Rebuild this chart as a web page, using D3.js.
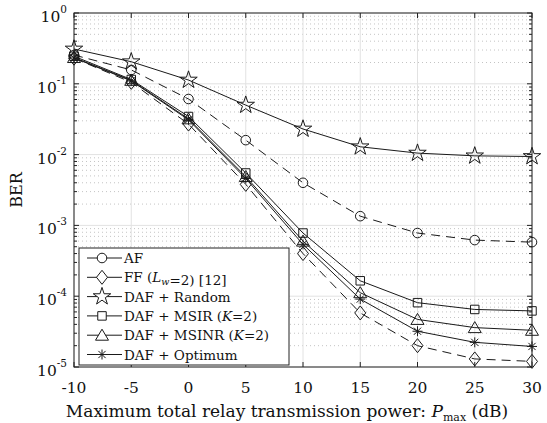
<!DOCTYPE html>
<html>
<head>
<meta charset="utf-8">
<script src="https://cdn.jsdelivr.net/npm/d3@7"></script>
<style>
  body { margin: 0; background: #fff; }
  svg { display: block; font-family: "DejaVu Serif", serif; }
</style>
</head>
<body>
<div id="chart"></div>
<script>
// power values (dB) on x axis
const pmax = [-10, -5, 0, 5, 10, 15, 20, 25, 30];

// BER curves
const berAF    = [0.255, 0.157, 0.061, 0.016, 0.0040, 0.00135, 0.00078, 0.00062, 0.00058];
const berFF    = [0.23, 0.105, 0.027, 0.0038, 0.00040, 0.000058, 0.000020, 0.000013, 0.0000120];
const berRand  = [0.31, 0.205, 0.113, 0.050, 0.023, 0.0129, 0.0105, 0.0096, 0.0094];
const berMSIR  = [0.245, 0.115, 0.0345, 0.0055, 0.00078, 0.000165, 0.000081, 0.000065, 0.000062];
const berMSINR = [0.235, 0.112, 0.032, 0.0049, 0.00060, 0.000112, 0.000047, 0.000036, 0.000033];
const berOpt   = [0.232, 0.110, 0.031, 0.0046, 0.00054, 0.000091, 0.000032, 0.0000223, 0.0000195];

const xTicks = [-10, -5, 0, 5, 10, 15, 20, 25, 30];
const yExps = [0, -1, -2, -3, -4, -5];

const series = [
  { label: "AF", vals: berAF, marker: "circle", dashed: true },
  { label: "FF", vals: berFF, marker: "diamond", dashed: true },
  { label: "DAF + Random", vals: berRand, marker: "star", dashed: false },
  { label: "DAF + MSIR", vals: berMSIR, marker: "square", dashed: false },
  { label: "DAF + MSINR", vals: berMSINR, marker: "triangle", dashed: false },
  { label: "DAF + Optimum", vals: berOpt, marker: "asterisk", dashed: false }
];

const width = 547, height = 423;
const margin = { top: 13, right: 15, bottom: 56, left: 74 };

const svg = d3.select("#chart").append("svg")
  .attr("width", width).attr("height", height);

const x = d3.scaleLinear().domain([-10, 30]).range([margin.left, width - margin.right]);
const y = d3.scaleLog().domain([1e-5, 1]).range([height - margin.bottom, margin.top]);

const x0 = x.range()[0], x1 = x.range()[1];
const y0 = y.range()[0], y1 = y.range()[1];

// minor log values
const minors = [];
for (let e = -5; e < 0; e++) for (let m = 2; m <= 9; m++) minors.push(m * Math.pow(10, e));

// grid
const grid = svg.append("g");
grid.selectAll(".minor").data(minors).join("line")
  .attr("x1", x0).attr("x2", x1)
  .attr("y1", d => y(d)).attr("y2", d => y(d))
  .attr("stroke", "#c4c4c4").attr("stroke-width", 1).attr("stroke-dasharray", "1,3");
grid.selectAll(".majy").data(yExps).join("line")
  .attr("x1", x0).attr("x2", x1)
  .attr("y1", d => y(Math.pow(10, d))).attr("y2", d => y(Math.pow(10, d)))
  .attr("stroke", "#e2e2e2").attr("stroke-width", 1);
grid.selectAll(".majx").data(xTicks).join("line")
  .attr("x1", d => x(d)).attr("x2", d => x(d))
  .attr("y1", y0).attr("y2", y1)
  .attr("stroke", "#e2e2e2").attr("stroke-width", 1);

// axes frame with inward ticks
const ax = svg.append("g").attr("stroke", "#222").attr("stroke-width", 1);
ax.append("rect").attr("x", x0).attr("y", y1).attr("width", x1 - x0).attr("height", y0 - y1)
  .attr("fill", "none");
xTicks.forEach(t => {
  ax.append("line").attr("x1", x(t)).attr("x2", x(t)).attr("y1", y0).attr("y2", y0 - 5);
  ax.append("line").attr("x1", x(t)).attr("x2", x(t)).attr("y1", y1).attr("y2", y1 + 5);
});
yExps.forEach(e => {
  const yy = y(Math.pow(10, e));
  ax.append("line").attr("x1", x0).attr("x2", x0 + 5).attr("y1", yy).attr("y2", yy);
  ax.append("line").attr("x1", x1).attr("x2", x1 - 5).attr("y1", yy).attr("y2", yy);
});
minors.forEach(v => {
  const yy = y(v);
  ax.append("line").attr("x1", x0).attr("x2", x0 + 3).attr("y1", yy).attr("y2", yy);
  ax.append("line").attr("x1", x1).attr("x2", x1 - 3).attr("y1", yy).attr("y2", yy);
});

// tick labels
svg.append("g").selectAll("text").data(xTicks).join("text")
  .attr("x", d => x(d)).attr("y", y0 + 26)
  .attr("text-anchor", "middle").attr("font-size", 15.5).attr("fill", "#111")
  .text(d => d);

const yl = svg.append("g").selectAll("text").data(yExps).join("text")
  .attr("x", x0 - 7).attr("y", d => y(Math.pow(10, d)) + 9)
  .attr("text-anchor", "end").attr("font-size", 15.5).attr("fill", "#111");
yl.append("tspan").text("10");
yl.append("tspan").attr("dy", -9).attr("font-size", 10.5).text(d => d === 0 ? "0" : "-" + (-d));

// axis titles
const xt = svg.append("text").attr("x", 287).attr("y", height - 6)
  .attr("text-anchor", "middle").attr("font-size", 17).attr("fill", "#111");
xt.append("tspan").text("Maximum total relay transmission power: ");
xt.append("tspan").attr("font-style", "italic").text("P");
xt.append("tspan").attr("dy", 4).attr("font-size", 11).text("max");
xt.append("tspan").attr("dy", -4).text(" (dB)");

svg.append("text").attr("transform", `translate(22,${(y0 + y1) / 2}) rotate(-90)`)
  .attr("text-anchor", "middle").attr("font-size", 16).attr("fill", "#111").text("BER");

// marker shapes
function markerPath(type) {
  switch (type) {
    case "circle": return d3.symbol(d3.symbolCircle, 72)();
    case "square": return d3.symbol(d3.symbolSquare, 72)();
    case "star": return d3.symbol(d3.symbolStar, 95)();
    case "triangle": return "M0,-6L6.5,5L-6.5,5Z";
    case "diamond": return "M0,-7L5.5,0L0,7L-5.5,0Z";
    case "asterisk": return "M-5,0L5,0M0,-5L0,5M-3.6,-3.6L3.6,3.6M-3.6,3.6L3.6,-3.6";
  }
}

const line = d3.line().x(d => x(d[0])).y(d => y(d[1]));
const plot = svg.append("g");
series.forEach(s => {
  const pts = pmax.map((p, i) => [p, s.vals[i]]);
  plot.append("path").datum(pts).attr("d", line)
    .attr("fill", "none").attr("stroke", "#1a1a1a").attr("stroke-width", 1)
    .attr("stroke-dasharray", s.dashed ? "9,6" : null);
  plot.selectAll(null).data(pts).join("path")
    .attr("transform", d => `translate(${x(d[0])},${y(d[1])})`)
    .attr("d", markerPath(s.marker))
    .attr("fill", "none").attr("stroke", "#1a1a1a").attr("stroke-width", 1);
});

// legend
const lg = svg.append("g");
lg.append("rect").attr("x", 79).attr("y", 248).attr("width", 210).attr("height", 117)
  .attr("fill", "#fff").attr("stroke", "#222").attr("stroke-width", 1);
const rowY = i => 258 + i * 19.3;
const lgLabels = [
  ["AF"],
  ["FF (", ["L", "w"], "=2) [12]"],
  ["DAF + Random"],
  ["DAF + MSIR (", ["K"], "=2)"],
  ["DAF + MSINR (", ["K"], "=2)"],
  ["DAF + Optimum"]
];
series.forEach((s, i) => {
  const cy = rowY(i);
  lg.append("line").attr("x1", 87).attr("x2", 122).attr("y1", cy).attr("y2", cy)
    .attr("stroke", "#1a1a1a").attr("stroke-width", 1);
  lg.append("path").attr("transform", `translate(102,${cy})`).attr("d", markerPath(s.marker))
    .attr("fill", s.marker === "asterisk" ? "none" : "#fff").attr("stroke", "#1a1a1a");
  const t = lg.append("text").attr("x", 124).attr("y", cy + 5).attr("font-size", 13.5).attr("fill", "#111");
  lgLabels[i].forEach(part => {
    if (typeof part === "string") t.append("tspan").text(part);
    else {
      t.append("tspan").attr("font-style", "italic").text(part[0]);
      if (part[1]) {
        t.append("tspan").attr("font-style", "italic").attr("font-size", 9.5).attr("dy", 3).text(part[1]);
        t.append("tspan").attr("dy", -3).text("");
      }
    }
  });
});
</script>
</body>
</html>
